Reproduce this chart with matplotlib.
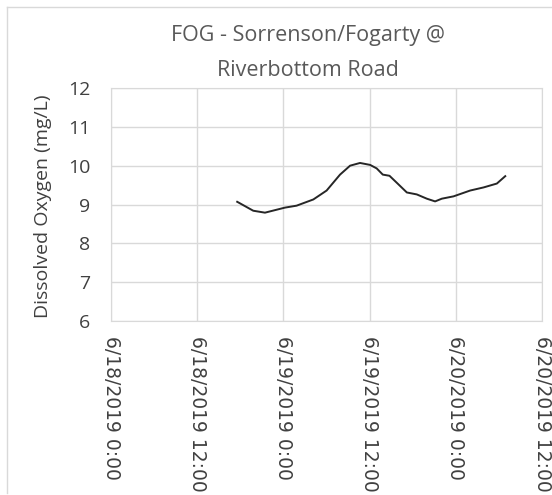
import matplotlib
matplotlib.use("Agg")
import matplotlib.pyplot as plt
from matplotlib.lines import Line2D
import pandas as pd

# readings from the logger (time, DO in mg/L)
times = ["2019-06-18 17:34", "2019-06-18 19:48", "2019-06-18 21:26",
         "2019-06-19 00:13", "2019-06-19 01:50", "2019-06-19 04:10",
         "2019-06-19 06:01", "2019-06-19 07:53", "2019-06-19 09:17",
         "2019-06-19 10:40", "2019-06-19 12:04", "2019-06-19 12:59",
         "2019-06-19 13:50", "2019-06-19 14:46", "2019-06-19 15:47",
         "2019-06-19 17:11", "2019-06-19 18:34", "2019-06-19 19:58",
         "2019-06-19 21:07", "2019-06-19 22:03", "2019-06-19 23:41",
         "2019-06-20 02:00", "2019-06-20 03:52", "2019-06-20 05:43",
         "2019-06-20 06:53"]
do_mgl = [9.07, 8.84, 8.79, 8.92, 8.97, 9.13, 9.36, 9.77, 10.00, 10.07,
          10.02, 9.93, 9.77, 9.74, 9.56, 9.31, 9.26, 9.15, 9.08, 9.15,
          9.21, 9.36, 9.44, 9.54, 9.73]

x_ticks = ["2019-06-18 00:00", "2019-06-18 12:00", "2019-06-19 00:00",
           "2019-06-19 12:00", "2019-06-20 00:00", "2019-06-20 12:00"]
y_ticks = [6, 7, 8, 9, 10, 11, 12]

t = pd.to_datetime(times)
xt = pd.to_datetime(x_ticks)

fig = plt.figure(figsize=(5.52, 4.95), dpi=100)
# chart area border (only top and left fit in the picture)
fig.add_artist(Line2D([0.0127, 1.0], [0.9859, 0.9859], transform=fig.transFigure,
                      color="#d9d9d9", linewidth=1))
fig.add_artist(Line2D([0.0127, 0.0127], [0.004, 0.9859], transform=fig.transFigure,
                      color="#d9d9d9", linewidth=1))

ax = fig.add_axes([0.2011, 0.3515, 0.7808, 0.4707])

ax.plot(t, do_mgl, color="#262626", linewidth=1.4)

ax.set_xlim(xt[0], xt[-1])
ax.set_ylim(6, 12)
ax.set_xticks(xt)
ax.set_xticklabels([d.strftime("%-m/%-d/%Y %-H:%M") for d in xt],
                   rotation=270, fontsize=13.5, color="#404040",
                   family="DejaVu Sans")
ax.set_yticks(y_ticks)
ax.set_yticklabels([str(v) for v in y_ticks], fontsize=14, color="#404040",
                   family="Open Sans")
ax.tick_params(axis="y", length=0, pad=15)
ax.tick_params(axis="x", length=0, pad=11)

ax.grid(True, color="#d9d9d9", linewidth=1)
ax.set_axisbelow(True)
for s in ax.spines.values():
    s.set_color("#d9d9d9")

fig.text(0.078, 0.584, "Dissolved Oxygen (mg/L)", rotation=90, ha="center",
         va="center", fontsize=14, color="#404040", family="Open Sans")

fig.text(0.558, 0.918, "FOG - Sorrenson/Fogarty @", ha="center", va="baseline",
         fontsize=15.5, color="#595959", family="Open Sans")
fig.text(0.558, 0.847, "Riverbottom Road", ha="center", va="baseline",
         fontsize=15.5, color="#595959", family="Open Sans")

fig.savefig("out.png", dpi=100)
